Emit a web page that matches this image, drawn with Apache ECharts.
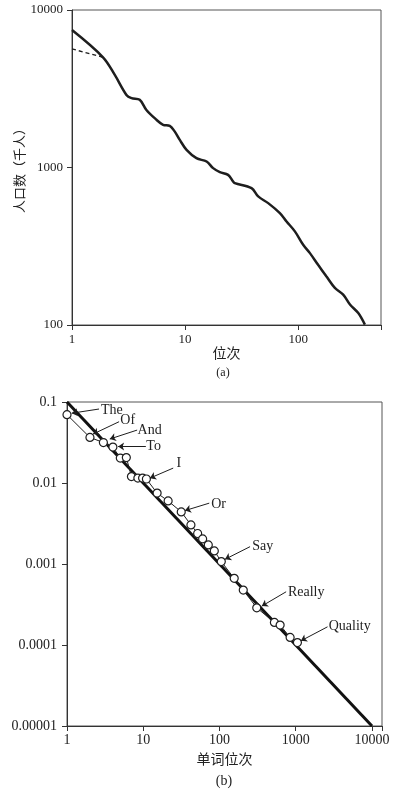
<!DOCTYPE html>
<html>
<head>
<meta charset="utf-8">
<script src="https://cdn.jsdelivr.net/npm/echarts@6/dist/echarts.min.js"></script>
<style>
html,body{margin:0;padding:0;background:#fff;}
#chart{width:396px;height:794px;}
</style>
</head>
<body>
<div id="chart"></div>
<script>
// ---- Chart (a): city population vs rank ----
const popRank  = [1,1.88,2.39,3.03,3.36,3.97,4.55,5.58,6.39,7.32,8.11,8.98,10.3,12.6,15.5,17.7,20.3,24.0,26.6,27.5,38.7,44.3,54.3,68.9,78.9,93.5,110.7,127,150,178,211,250,287,340,389];
const popValue = [7460,5010,3870,2890,2760,2690,2320,2010,1865,1838,1690,1496,1294,1146,1091,991,935,898,815,796,739,655,594,513,454,393,323,286,241,203,172,156,135,119,100.5];
const dashRank  = [1,1.88];
const dashValue = [5660,5010];
const aXTicks = ['1','10','100'];
const aYTicks = ['100','1000','10000'];

// ---- Chart (b): word frequency vs rank ----
const zipfRank = [1,10000];
const zipfFreq = [0.1,0.00001];
const wordRank = [1,2,3,4,5,6,7,8.5,9.8,11,15.2,21.2,31.5,42.2,51.7,60.1,71.3,85.5,105.6,156,205,308,525,624,844,1052];
const wordFreq = [0.0697,0.0365,0.0316,0.0278,0.0203,0.0206,0.0120,0.0115,0.0115,0.0112,0.0075,0.0060,0.0044,0.00304,0.00238,0.00204,0.00172,0.00145,0.00107,0.000665,0.000477,0.000288,0.00019,0.000176,0.000124,0.000107];
const bXTicks = ['1','10','100','1000','10000'];
const bYTicks = ['0.00001','0.0001','0.001','0.01','0.1'];

const annotText  = ['The','Of','And','To','I','Or','Say','Really','Quality'];
const annotTextX = [2.75,4.93,8.31,10.82,26.8,76.6,265,778,2666];
const annotTextY = [0.078,0.0587,0.045,0.0282,0.0176,0.00547,0.001637,0.00045,0.0001677];
const arrowFromX = [2.63,4.82,8.31,10.82,24.7,73.4,251.7,748,2610];
const arrowFromY = [0.0819,0.0571,0.045,0.0282,0.01527,0.00564,0.001637,0.000454,0.0001677];
const arrowToX   = [1.153,2.196,3.64,4.68,12.21,35.2,118.1,358.5,1167];
const arrowToY   = [0.0727,0.0402,0.0349,0.0282,0.01148,0.00456,0.001143,0.000302,0.0001125];

const SERIF = '"Liberation Serif","Times New Roman",serif';
const CJK = '"Liberation Serif","Noto Sans CJK SC",serif';
const INK = '#1e1e1e';
const TXT = '#222';

function fmt(labels){
  return function(v){
    for (const l of labels){
      if (Math.abs(Math.log10(+l) - Math.log10(v)) < 1e-6) return l;
    }
    return '';
  };
}
function axisBase(labels, size, margin, extra){
  return Object.assign({
    type:'log', logBase:10,
    nameMoveOverlap:false,
    axisLine:{show:true, onZero:false, lineStyle:{color:'#333', width:1}},
    axisTick:{show:true, inside:false, length:5, lineStyle:{color:'#333', width:1}},
    minorTick:{show:false},
    splitLine:{show:false},
    axisLabel:{color:TXT, fontFamily:SERIF, fontSize:size, margin:margin, formatter:fmt(labels)}
  }, extra);
}

const chart = echarts.init(document.getElementById('chart'), null, {renderer:'canvas'});

const option = {
  animation:false,
  backgroundColor:'#fff',
  grid:[
    {left:72, top:10, width:309, height:315, show:true, borderColor:'#555', borderWidth:1, backgroundColor:'transparent'},
    {left:67, top:402, width:315, height:324, show:true, borderColor:'#555', borderWidth:1, backgroundColor:'transparent'}
  ],
  xAxis:[
    axisBase(aXTicks, 13, 8, {gridIndex:0, min:1, max:540, name:'位次', nameLocation:'middle', nameGap:22,
      nameTextStyle:{fontFamily:CJK, fontSize:14, color:TXT}}),
    axisBase(bXTicks, 14, 7, {gridIndex:1, min:1, max:13530, name:'单词位次', nameLocation:'middle', nameGap:27,
      nameTextStyle:{fontFamily:CJK, fontSize:14, color:TXT}})
  ],
  yAxis:[
    axisBase(aYTicks, 13, 9, {gridIndex:0, min:100, max:10000, name:'人口数（千人）', nameLocation:'middle', nameRotate:90, nameGap:45,
      nameTextStyle:{fontFamily:CJK, fontSize:13, color:TXT}}),
    axisBase(bYTicks, 14, 10, {gridIndex:1, min:0.00001, max:0.1})
  ],
  graphic:[
    {type:'text', x:223, y:373, style:{text:'(a)', font:'12px '+SERIF, fill:TXT, align:'center', verticalAlign:'middle'}},
    {type:'text', x:224, y:781, style:{text:'(b)', font:'14px '+SERIF, fill:TXT, align:'center', verticalAlign:'middle'}}
  ],
  series:[
    {
      type:'line', xAxisIndex:0, yAxisIndex:0,
      data: popRank.map((r,i)=>[r, popValue[i]]),
      symbol:'none', smooth:0.35,
      lineStyle:{color:INK, width:2.5}, z:3
    },
    {
      type:'line', xAxisIndex:0, yAxisIndex:0,
      data: dashRank.map((r,i)=>[r, dashValue[i]]),
      symbol:'none',
      lineStyle:{color:INK, width:1.3, type:[4,3]}, z:2
    },
    {
      type:'line', xAxisIndex:1, yAxisIndex:1,
      data: zipfRank.map((r,i)=>[r, zipfFreq[i]]),
      symbol:'none',
      lineStyle:{color:'#111', width:3}, z:2
    },
    {
      type:'line', xAxisIndex:1, yAxisIndex:1,
      data: wordRank.map((r,i)=>[r, wordFreq[i]]),
      symbol:'circle', symbolSize:8, showAllSymbol:true,
      itemStyle:{color:'#fff', borderColor:INK, borderWidth:1.2, opacity:1},
      lineStyle:{color:INK, width:1}, z:4,
      markLine:{
        silent:true, animation:false,
        symbol:['none','arrow'], symbolSize:6,
        lineStyle:{color:INK, width:1, type:'solid', opacity:1},
        label:{show:false},
        emphasis:{disabled:true},
        data: annotText.map((t,i)=>[{coord:[arrowFromX[i], arrowFromY[i]]},{coord:[arrowToX[i], arrowToY[i]]}])
      }
    },
    {
      type:'scatter', xAxisIndex:1, yAxisIndex:1,
      data: annotText.map((t,i)=>({value:[annotTextX[i], annotTextY[i]], name:t})),
      symbolSize:1, itemStyle:{color:'rgba(0,0,0,0)', opacity:1},
      label:{show:true, position:'right', distance:0, formatter:'{b}', fontFamily:SERIF, fontSize:14, color:TXT, opacity:1},
      silent:true, z:5
    }
  ]
};
chart.setOption(option);
</script>
</body>
</html>
